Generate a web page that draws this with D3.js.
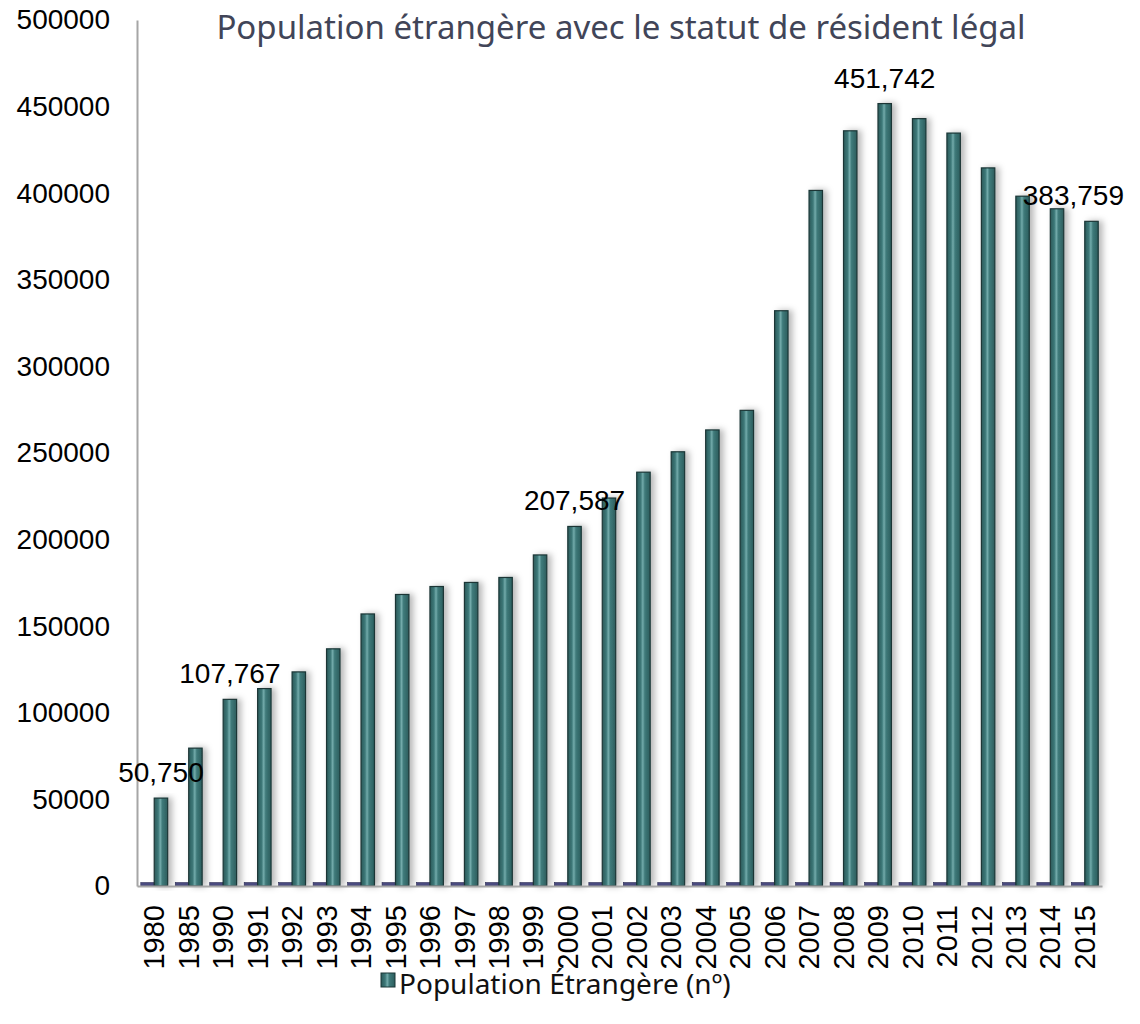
<!doctype html>
<html>
<head>
<meta charset="utf-8">
<style>
    body { margin: 0; background: #ffffff; }
    svg text { font-family: "Liberation Sans", Arial, sans-serif; }
    .title { font-family: "Noto Sans", "Open Sans", sans-serif; fill: #414558; }
    .legend { font-family: "Noto Sans", "Open Sans", sans-serif; fill: #111; }
</style>
<script src="https://cdnjs.cloudflare.com/ajax/libs/d3/7.8.5/d3.min.js"></script>
</head>
<body>
<div id="chart"></div>
<script>
    // data
    var years = ["1980","1985","1990","1991","1992","1993","1994","1995","1996","1997",
                 "1998","1999","2000","2001","2002","2003","2004","2005","2006","2007",
                 "2008","2009","2010","2011","2012","2013","2014","2015"];
    var population = [50750, 79594, 107767, 113978, 123612, 136932, 157073, 168316, 172912, 175263,
                      178137, 191143, 207587, 223997, 238929, 250697, 263322, 274631, 332137, 401612,
                      436020, 451742, 443055, 434708, 414610, 398268, 391000, 383759];
    // the year column was also plotted as a series (tiny bars at the bottom)
    var yearSeries = years.map(function(y) { return +y; });
    var labelled = ["1980", "1990", "2000", "2009", "2015"];
    var yTicks = [0, 50000, 100000, 150000, 200000, 250000, 300000, 350000, 400000, 450000, 500000];

    var W = 1140, H = 1024;
    var plotLeft = 137, plotRight = 1102, plotTop = 20, plotBottom = 886;

    var svg = d3.select("#chart").append("svg")
        .attr("width", W)
        .attr("height", H);

    var defs = svg.append("defs");
    var grad = defs.append("linearGradient").attr("id", "barGrad")
        .attr("x1", "0%").attr("x2", "100%").attr("y1", "0%").attr("y2", "0%");
    grad.append("stop").attr("offset", "0%").attr("stop-color", "#2b5a5a");
    grad.append("stop").attr("offset", "30%").attr("stop-color", "#3d7878");
    grad.append("stop").attr("offset", "45%").attr("stop-color", "#73abab");
    grad.append("stop").attr("offset", "60%").attr("stop-color", "#3f7a7a");
    grad.append("stop").attr("offset", "100%").attr("stop-color", "#2c5d5d");

    var shadow = defs.append("filter").attr("id", "shadow")
        .attr("x", "-50%").attr("y", "-5%").attr("width", "250%").attr("height", "110%");
    shadow.append("feDropShadow")
        .attr("dx", 4).attr("dy", 0).attr("stdDeviation", 3)
        .attr("flood-color", "#000").attr("flood-opacity", 0.28);

    var x = d3.scaleBand()
        .domain(years)
        .range([plotLeft, plotRight])
        .paddingInner(0.22)
        .paddingOuter(0.11);

    var sub = d3.scaleBand()
        .domain(["year", "pop"])
        .range([0, x.bandwidth()]);

    var y = d3.scaleLinear()
        .domain([0, 500000])
        .range([plotBottom, plotTop]);

    // title
    svg.append("text")
        .attr("class", "title")
        .attr("x", 621)
        .attr("y", 39)
        .attr("text-anchor", "middle")
        .style("font-size", "33px")
        .text("Population étrangère avec le statut de résident légal");

    // y axis
    var yAxis = svg.append("g")
        .attr("transform", "translate(" + plotLeft + ",0)")
        .call(d3.axisLeft(y).tickValues(yTicks).tickSize(0).tickPadding(27).tickFormat(d3.format("d")));
    yAxis.select(".domain").attr("stroke", "#a6a6a6").attr("stroke-width", 2);
    yAxis.selectAll("text").style("font-size", "28px").attr("fill", "#000");

    // year series (tiny bars)
    svg.append("g").selectAll("rect")
        .data(yearSeries)
        .enter().append("rect")
        .attr("x", function(d, i) { return x(years[i]) + sub("year"); })
        .attr("y", function(d) { return y(d); })
        .attr("width", sub.bandwidth())
        .attr("height", function(d) { return y(0) - y(d); })
        .attr("fill", "#4a4b80")
        .attr("stroke", "#2b2b55")
        .attr("stroke-width", 0.6);

    // population bars
    svg.append("g").selectAll("rect")
        .data(population)
        .enter().append("rect")
        .attr("x", function(d, i) { return x(years[i]) + sub("pop"); })
        .attr("y", function(d) { return y(d); })
        .attr("width", sub.bandwidth())
        .attr("height", function(d) { return y(0) - y(d); })
        .attr("fill", "url(#barGrad)")
        .attr("stroke", "#1b3636")
        .attr("stroke-width", 1.2)
        .attr("filter", "url(#shadow)");

    // x axis
    var xAxis = svg.append("g")
        .attr("transform", "translate(0," + plotBottom + ")")
        .call(d3.axisBottom(x).tickSize(0).tickPadding(0));
    xAxis.select(".domain").attr("stroke", "#a6a6a6").attr("stroke-width", 2);
    xAxis.selectAll("text")
        .style("font-size", "29px")
        .attr("fill", "#000")
        .attr("text-anchor", "end")
        .attr("dy", "0.35em")
        .attr("transform", "translate(0,19) rotate(-90)")
        .attr("x", 0)
        .attr("y", 0);

    // data labels
    var fmt = d3.format(",");
    svg.append("g").selectAll("text")
        .data(population.map(function(v, i) { return {year: years[i], value: v}; })
            .filter(function(d) { return labelled.indexOf(d.year) >= 0; }))
        .enter().append("text")
        .attr("x", function(d) { return x(d.year) + sub("pop") + sub.bandwidth() / 2; })
        .attr("y", function(d) { return y(d.value) - 16; })
        .attr("text-anchor", "middle")
        .style("font-size", "28px")
        .attr("fill", "#000")
        .text(function(d) { return fmt(d.value); })
        .each(function() {
            // keep label inside the chart area
            var bb = this.getBBox();
            if (bb.x + bb.width > W - 16) {
                d3.select(this).attr("x", W - 16 - bb.width / 2);
            }
        });

    // legend
    var legend = svg.append("g");
    legend.append("rect")
        .attr("x", 381).attr("y", 973)
        .attr("width", 14).attr("height", 14)
        .attr("fill", "url(#barGrad)")
        .attr("stroke", "#1b3636")
        .attr("stroke-width", 1);
    legend.append("text")
        .attr("class", "legend")
        .attr("x", 399)
        .attr("y", 994)
        .style("font-size", "28px")
        .text("Population Étrangère (nº)");
</script>
</body>
</html>
